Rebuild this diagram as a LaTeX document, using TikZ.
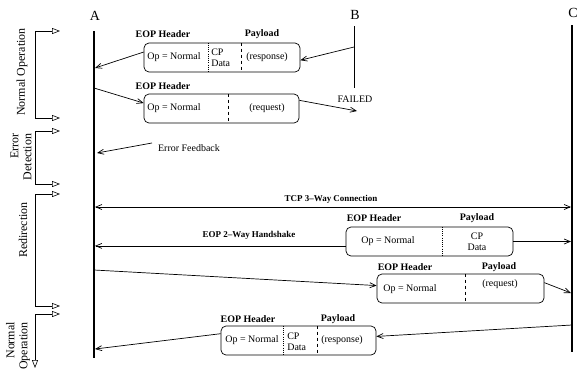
\documentclass[tikz,border=0pt]{standalone}
\usepackage{fontspec}
\setmainfont{Liberation Serif}
\usetikzlibrary{arrows.meta}

\begin{document}
\begin{tikzpicture}[x=1bp,y=-1bp,line width=0.7pt,
  >={Straight Barb[length=6bp,width=5bp]}]
\newcommand{\txt}{\fontsize{10}{11}\selectfont}
\useasboundingbox (0,0) rectangle (577,371);
\tikzstyle{pkt}=[draw,rounded corners=5bp,minimum height=29bp,inner sep=0pt]
\tikzstyle{hdr}=[font=\fontsize{10}{11}\selectfont\bfseries,inner sep=0pt]
\tikzstyle{fld}=[font=\txt,inner sep=0pt,align=left]
\tikzstyle{side}=[font=\fontsize{12}{13}\selectfont,rotate=90,inner sep=0pt,align=right]
\tikzstyle{phase}=[{Triangle[open,length=8bp,width=6bp]}-{Triangle[open,length=8bp,width=6bp]},line width=0.6pt]
\tikzstyle{life}=[font=\fontsize{14}{14}\selectfont,inner sep=0pt]
\tikzstyle{dots}=[line width=0.5pt,dash pattern=on 0.6pt off 1.6pt]

% hosts
\node[life] (A) at (95,16) {A};
\node[life] (B) at (355,15) {B};
\node[life] (C) at (573,13) {C};
\coordinate (Atop) at (94,31);
\coordinate (Abot) at (94,358);
\coordinate (Btop) at (354,26);
\coordinate (Bbot) at (354,88);
\coordinate (Ctop) at (572,25);
\coordinate (Cbot) at (572,352);
\draw [line width=1.2pt] (Atop) -- (Abot);
\draw [line width=0.9pt] (Btop) -- (Bbot);
\draw [line width=1.2pt] (Ctop) -- (Cbot);
\node[fld] (failed) at (355,99) {FAILED};

% phases
\coordinate (p1a) at (60,31);  \coordinate (p1b) at (60,118);
\coordinate (p2a) at (60,131); \coordinate (p2b) at (60,184);
\coordinate (p3a) at (60,194); \coordinate (p3b) at (60,306);
\coordinate (p4a) at (60,314); \coordinate (p4b) at (35,368);
\draw [phase] (p1a) -| (35,118) -- (p1b);
\draw [phase] (p2a) -| (35,184) -- (p2b);
\draw [phase] (p3a) -| (35,306) -- (p3b);
\draw [phase] (p4a) -| (p4b);
\node[side] (n1) at (22,72) {Normal Operation};
\node[side] (n2) at (21,157) {Error\\Detection};
\node[side] (n3) at (23,230) {Redirection};
\node[side] (n4) at (18,346) {Normal\\Operation};

% response from B
\node[pkt,minimum width=156bp] (box1) at (222,57.5) {};
\node[hdr] (hdr1) at (163,34) {EOP Header};
\node[hdr] (pay1) at (262,34) {Payload};
\node[fld] (op1) at (174,57) {Op = Normal};
\node[fld,anchor=west] (cp1) at (211,57.5) {CP\\Data};
\node[fld] (resp1) at (267,57) {(response)};
\draw [dots] (208,0 |- box1.north) -- (208,0 |- box1.south);
\draw [dashed] (241,0 |- box1.north) -- (241,0 |- box1.south);
\coordinate (b1) at (354,47);
\coordinate (a1) at (95,68);
\draw [->] (b1) -- (box1.-2);
\draw [->] (box1.176) -- (a1);

% request to B
\node[pkt,minimum width=155bp] (box2) at (221.5,108.5) {};
\node[hdr] (hdr2) at (163,86) {EOP Header};
\node[fld] (op2) at (174,108) {Op = Normal};
\node[fld] (req2) at (267,108) {(request)};
\draw [dashed] (228,0 |- box2.north) -- (228,0 |- box2.south);
\coordinate (a2) at (94,88);
\coordinate (f1) at (357,111);
\draw [->] (a2) -- (box2.176);
\draw [->] (box2.6) -- (f1);

% error feedback
\coordinate (e1) at (152,143);
\coordinate (a3) at (97,153);
\draw [->] (e1) -- (a3);
\node[fld] (err) at (189,148) {Error Feedback};

% tcp connection
\coordinate (a4) at (95,207);
\coordinate (c4) at (571,207);
\draw [<->] (a4) -- (c4);
\node[hdr,font=\fontsize{9}{10}\selectfont\bfseries] (tcp) at (331,199) {TCP 3--Way Connection};

% handshake
\node[pkt,minimum width=167bp] (box3) at (429.5,241.5) {};
\node[hdr] (hdr3) at (374,218) {EOP Header};
\node[hdr] (pay3) at (477,218) {Payload};
\node[fld] (op3) at (388,241) {Op = Normal};
\node[fld,align=center] (cp3) at (477,242) {CP\\Data};
\draw [dots] (442,0 |- box3.north) -- (442,0 |- box3.south);
\draw [->] (box3.183) -- (box3.183 -| a4);
\draw [->] (box3.east) -- (box3.east -| c4);
\node[hdr,font=\fontsize{9}{10}\selectfont\bfseries] (hs) at (249,235) {EOP 2--Way Handshake};

% request to C
\node[pkt,minimum width=167bp] (box4) at (460.5,288.5) {};
\node[hdr] (hdr4) at (405,267) {EOP Header};
\node[hdr] (pay4) at (499,267) {Payload};
\node[fld] (op4) at (410,289) {Op = Normal};
\node[fld] (req4) at (500,284) {(request)};
\draw [dashed] (465,0 |- box4.north) -- (465,0 |- box4.south);
\coordinate (a5) at (94,270);
\coordinate (c5) at (571,293);
\draw [->] (a5) -- (box4.178);
\draw [->] (box4.4) -- (c5);

% response from C
\node[pkt,minimum width=155bp] (box5) at (298.5,340.5) {};
\node[hdr] (hdr5) at (248,319) {EOP Header};
\node[hdr] (pay5) at (338,319) {Payload};
\node[fld] (op5) at (252,340) {Op = Normal};
\node[fld,anchor=west] (cp5) at (287,341.5) {CP\\Data};
\node[fld] (resp5) at (342,340) {(response)};
\draw [dots] (283,0 |- box5.north) -- (283,0 |- box5.south);
\draw [dashed] (317,0 |- box5.north) -- (317,0 |- box5.south);
\coordinate (c6) at (572,325);
\coordinate (a6) at (95,349);
\draw [->] (c6) -- (box5.3);
\draw [->] (box5.175) -- (a6);
\end{tikzpicture}
\end{document}
